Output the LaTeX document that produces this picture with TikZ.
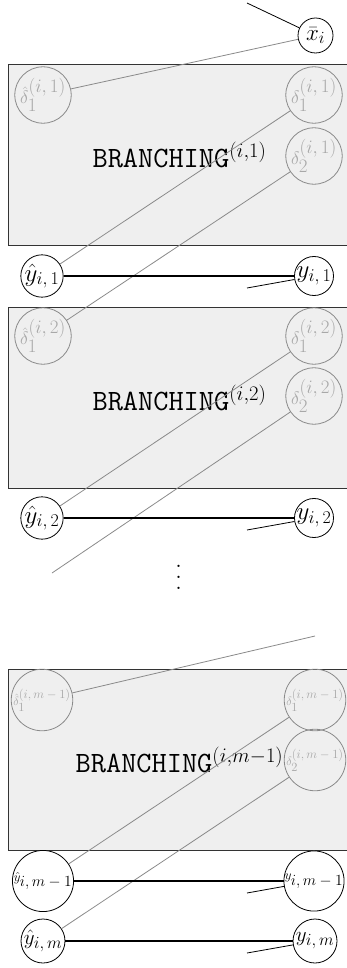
\RequirePackage{fix-cm}
\documentclass[tikz,border=0pt]{standalone}
\newcommand{\labsub}[4]{{\fontsize{#1}{#1}\selectfont$#3_{\mbox{\fontsize{#2}{#2}\selectfont$#4$}}$}}
\newcommand{\labss}[5]{{\fontsize{#1}{#1}\selectfont$#3_{\mbox{\fontsize{#2}{#2}\selectfont$#4$}}^{\mbox{\fontsize{#2}{#2}\selectfont$#5$}}$}}
\newcommand{\bigvdots}{\vbox{\baselineskip=11pt\lineskiplimit=0pt\hbox{.}\hbox{.}\hbox{.}}}
\definecolor{boxfill}{HTML}{EFEFEF}
\definecolor{boxborder}{HTML}{333333}
\definecolor{innerline}{HTML}{8A8A8A}
\definecolor{innertext}{HTML}{A8A8A8}
\tikzset{
  blockbox/.style={draw=boxborder, fill=boxfill, line width=1pt, rectangle, inner sep=0pt,
    anchor=north west, minimum width=342pt, minimum height=181pt,
    font=\fontsize{29.5}{34}\selectfont},
  innernode/.style={circle, draw=innerline, line width=0.8pt, text=innertext, inner sep=0pt},
  obsnode/.style={circle, draw=black, line width=0.8pt, inner sep=0pt, fill=white},
  grayline/.style={draw=innerline, line width=0.8pt},
  blackline/.style={draw=black, line width=0.8pt},
  pairline/.style={draw=black, line width=1.3pt},
}
\begin{document}
\begin{tikzpicture}[x=1pt, y=-1pt]
\useasboundingbox (0,0) rectangle (346,968);
% boxes
\node[blockbox] (b1) at (8,64) {\texttt{BRANCHING}$^{(i,1)}$};
\node[blockbox] (b2) at (8,307) {\texttt{BRANCHING}$^{(i,2)}$};
\node[blockbox] (b3) at (8,669) {\texttt{BRANCHING}$^{(i,m-1)}$};
% inner nodes
\node[innernode, minimum size=53pt] (dh1) at (43,95) {\labss{18}{19}{\hat\delta}{1}{(i,1)}};
\node[innernode, minimum size=53pt] (d11) at (314,95) {\labss{18}{19}{\delta}{1}{(i,1)}};
\node[innernode, minimum size=53pt] (d21) at (314,156) {\labss{18}{19}{\delta}{2}{(i,1)}};
\node[innernode, minimum size=53pt] (dh2) at (43,336) {\labss{18}{19}{\hat\delta}{1}{(i,2)}};
\node[innernode, minimum size=53pt] (d12) at (314,336) {\labss{18}{19}{\delta}{1}{(i,2)}};
\node[innernode, minimum size=53pt] (d22) at (314,396) {\labss{18}{19}{\delta}{2}{(i,2)}};
\node[innernode, minimum size=57pt] (dh3) at (42,700) {\labss{12}{12.5}{\hat\delta}{1}{(i,m-1)}};
\node[innernode, minimum size=57pt] (d13) at (315,700) {\labss{12}{12.5}{\delta}{1}{(i,m-1)}};
\node[innernode, minimum size=57pt] (d23) at (315,760) {\labss{12}{12.5}{\delta}{2}{(i,m-1)}};
% observed nodes
\node[obsnode, minimum size=35pt] (xb) at (315.5,35.5) {\labsub{23}{17}{\bar x}{i}};
\node[obsnode, minimum size=41pt] (yh1) at (42,276) {\labsub{25}{18}{\hat y}{i,1}};
\node[obsnode, minimum size=38pt] (y1) at (314,276) {\labsub{25}{18}{y}{i,1}};
\node[obsnode, minimum size=40pt] (yh2) at (42,518) {\labsub{25}{18}{\hat y}{i,2}};
\node[obsnode, minimum size=38pt] (y2) at (314,518) {\labsub{25}{18}{y}{i,2}};
\node[obsnode, minimum size=52pt] (yhm1) at (43,881) {\labsub{13}{15.5}{\hat y}{i,m-1}};
\node[obsnode, minimum size=52pt] (ym1) at (314,881) {\labsub{13}{15.5}{y}{i,m-1}};
\node[obsnode, minimum size=44pt] (yhm) at (43,941) {\labsub{21}{17}{\hat y}{i,m}};
\node[obsnode, minimum size=44pt] (ym) at (315,941) {\labsub{21}{17}{y}{i,m}};
% dots
\node[font=\fontsize{28}{11}\selectfont, inner sep=0pt] (dots) at (178.7,577) {\bigvdots};
% free ends
\coordinate (t0) at (247,3);
\coordinate (c1) at (247,288);
\coordinate (c2) at (247,530);
\coordinate (e2) at (52,573);
\coordinate (s3) at (315,636);
\coordinate (c3) at (247,893);
\coordinate (c4) at (247,953);
% connectors
\draw[blackline] (xb) -- (t0);
\draw[grayline] (xb) -- (dh1);
\draw[grayline] (d11) -- (yh1);
\draw[grayline] (d21) -- (dh2);
\draw[pairline] (yh1) -- (y1);
\draw[blackline] (y1) -- (c1);
\draw[grayline] (d12) -- (yh2);
\draw[grayline] (d22) -- (e2);
\draw[pairline] (yh2) -- (y2);
\draw[blackline] (y2) -- (c2);
\draw[grayline] (s3) -- (dh3);
\draw[grayline] (d13) -- (yhm1);
\draw[grayline] (d23) -- (yhm);
\draw[pairline] (yhm1) -- (ym1);
\draw[blackline] (ym1) -- (c3);
\draw[pairline] (yhm) -- (ym);
\draw[blackline] (ym) -- (c4);
\end{tikzpicture}
\end{document}
